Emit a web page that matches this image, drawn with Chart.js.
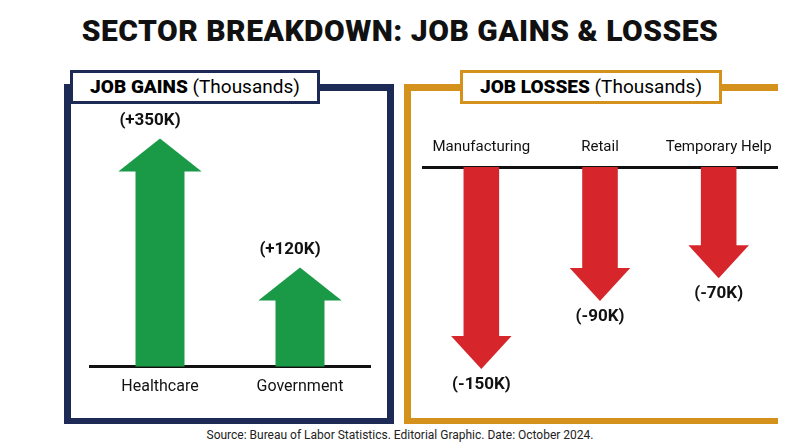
<!DOCTYPE html><html><head><meta charset="utf-8">
<script src="https://cdn.jsdelivr.net/npm/chart.js@4"></script>
<style>
body{margin:0;width:800px;height:447px;background:#fff;font-family:Roboto,"Noto Sans",sans-serif;position:relative;overflow:hidden}
#t{position:absolute;top:13px;left:0;width:800px;text-align:center;font-weight:900;font-size:30px;color:#111;letter-spacing:0.5px}
.p{position:absolute;box-sizing:border-box}
#pl{left:64px;top:84px;width:330px;height:340px;border:7px solid #1d2a55;border-bottom:none}
#pl::after{content:"";position:absolute;left:-7px;right:-7px;bottom:0;height:6px;background:#1d2a55}
#pr{left:404px;top:84px;width:374px;height:340px;border:7px solid #d4911c;border-right:none;border-bottom:none}
#pr::after{content:"";position:absolute;left:-7px;right:0;bottom:0;height:6px;background:#d4911c}
.h{position:absolute;top:70px;height:34px;background:#fff;border:3px solid;box-sizing:border-box;font-size:19px;line-height:28px;text-align:center}
.h b{font-weight:900}
#hl{left:70px;width:250px;border-color:#1d2a55}
#hr{left:460px;width:262px;border-color:#d4911c}
#src{position:absolute;top:428px;width:800px;text-align:center;font-size:12px;color:#222}
#c1{position:absolute;left:80px;top:110px}
#c2{position:absolute;left:422px;top:135px}
</style></head><body>
<div id="t">SECTOR BREAKDOWN: JOB GAINS &amp; LOSSES</div>
<div class="p" id="pl"></div><div class="p" id="pr"></div>
<div class="h" id="hl"><b>JOB GAINS</b> (Thousands)</div>
<div class="h" id="hr"><b>JOB LOSSES</b> (Thousands)</div>
<div id="c1"><canvas id="a" width="300" height="290"></canvas></div>
<div id="c2"><canvas id="b" width="356" height="270"></canvas></div>
<div id="src">Source: Bureau of Labor Statistics. Editorial Graphic. Date: October 2024.</div>
<script>
const gainCats=["Healthcare","Government"];
const gainVals=[350,120];
const gainLabels=["(+350K)","(+120K)"];
const lossCats=["Manufacturing","Retail","Temporary Help"];
const lossVals=[-150,-90,-70];
const lossLabels=["(-150K)","(-90K)","(-70K)"];
const arrows={id:'arrows',afterDatasetsDraw(ch,a,o){
 const c=ch.ctx,m=ch.getDatasetMeta(0),lab=o.labels,up=o.up;
 m.data.forEach((b,i)=>{
  const w=b.width,x=b.x,y=b.y;
  c.fillStyle=o.color;c.beginPath();
  if(up){c.moveTo(x-w*0.85,y+1);c.lineTo(x,y-32);c.lineTo(x+w*0.85,y+1);}
  else{c.moveTo(x-w*0.85,y-1);c.lineTo(x,y+32);c.lineTo(x+w*0.85,y-1);}
  c.fill();
  c.fillStyle='#111';c.font='bold 17px Roboto';c.textAlign='center';
  c.fillText(lab[i],x+(up?-10:0),up?y-45:y+52);
 });}};
Chart.defaults.font.family='Roboto';
new Chart(document.getElementById('a'),{type:'bar',
 data:{labels:gainCats,datasets:[{data:gainVals,backgroundColor:'#1a9a47',barPercentage:0.35,categoryPercentage:1}]},
 options:{responsive:false,animation:false,layout:{padding:{top:10,left:10,right:10}},
  plugins:{legend:{display:false},tooltip:{enabled:false},arrows:{labels:gainLabels,up:true,color:'#1a9a47'}},
  scales:{x:{grid:{display:false},border:{color:'#111',width:3},ticks:{color:'#111',font:{size:16}}},
   y:{display:false,min:0,max:440}}},plugins:[arrows]});
new Chart(document.getElementById('b'),{type:'bar',
 data:{labels:lossCats,datasets:[{data:lossVals,backgroundColor:'#d6262b',barPercentage:0.3,categoryPercentage:1}]},
 options:{responsive:false,animation:false,
  plugins:{legend:{display:false},tooltip:{enabled:false},arrows:{labels:lossLabels,up:false,color:'#d6262b'}},
  scales:{x:{position:'top',grid:{display:false},border:{color:'#111',width:3},ticks:{color:'#111',font:{size:15},maxRotation:0,minRotation:0,autoSkip:false}},
   y:{display:false,min:-210,max:0}}},plugins:[arrows]});
</script></body></html>
